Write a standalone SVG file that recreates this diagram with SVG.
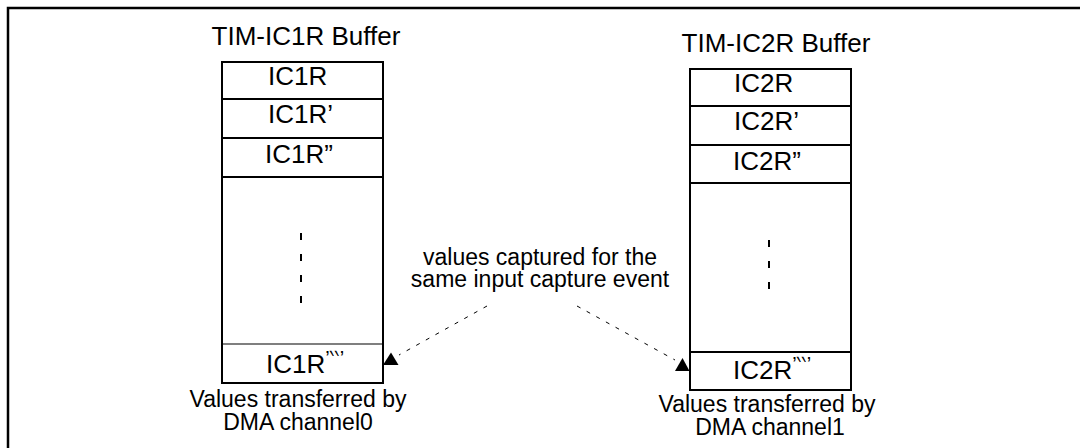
<svg xmlns="http://www.w3.org/2000/svg" width="1080" height="448" viewBox="0 0 1080 448">
  <defs>
    <style>
      .t { font-family: "Liberation Sans", Arial, sans-serif; fill: #000; }
      .big { font-size: 26px; }
      .lbl { font-size: 23px; }
      .box { fill: #fff; stroke: #000; stroke-width: 2; }
      .div { stroke: #000; stroke-width: 2; }
      .dots { stroke: #000; stroke-width: 2; stroke-dasharray: 7 14; }
      .lead { stroke: #000; stroke-width: 1; stroke-dasharray: 4 7; fill: none; }
      .sup { font-size: 20px; }
    </style>
  </defs>
  <rect width="1080" height="448" fill="#fff"/>
  <!-- outer frame (runs off the right and bottom edges) -->
  <path d="M8 448 V8 H1080" fill="none" stroke="#000" stroke-width="2.5"/>

  <!-- first capture buffer -->
  <g id="ic1r-buffer">
    <text class="t big" x="306" y="45" text-anchor="middle">TIM-IC1R Buffer</text>
    <rect class="box" x="222" y="62" width="161" height="321"/>
    <line class="div" x1="222" y1="99" x2="383" y2="99"/>
    <line class="div" x1="222" y1="138" x2="383" y2="138"/>
    <line class="div" x1="222" y1="177" x2="383" y2="177"/>
    <line x1="222" y1="344" x2="383" y2="344" stroke="#000" stroke-width="1.2"/>
    <text class="t big" x="268" y="85">IC1R</text>
    <text class="t big" x="268" y="123">IC1R’</text>
    <text class="t big" x="265" y="163">IC1R”</text>
    <line class="dots" x1="301" y1="233" x2="301" y2="303"/>
    <text class="t big" x="266" y="373">IC1R<tspan class="sup" dy="-8">’‵‵’</tspan></text>
    <text class="t lbl" x="298" y="407" text-anchor="middle">Values transferred by</text>
    <text class="t lbl" x="298" y="430" text-anchor="middle">DMA channel0</text>
  </g>

  <!-- second capture buffer -->
  <g id="ic2r-buffer">
    <text class="t big" x="776" y="52" text-anchor="middle">TIM-IC2R Buffer</text>
    <rect class="box" x="690" y="69" width="161" height="321"/>
    <line class="div" x1="690" y1="106" x2="851" y2="106"/>
    <line class="div" x1="690" y1="145" x2="851" y2="145"/>
    <line class="div" x1="690" y1="183" x2="851" y2="183"/>
    <line class="div" x1="690" y1="352" x2="851" y2="352"/>
    <text class="t big" x="734" y="92">IC2R</text>
    <text class="t big" x="734" y="130">IC2R’</text>
    <text class="t big" x="733" y="170">IC2R”</text>
    <line class="dots" x1="769" y1="240" x2="769" y2="303"/>
    <text class="t big" x="733" y="379">IC2R<tspan class="sup" dy="-8">’‵‵’</tspan></text>
    <text class="t lbl" x="767" y="412" text-anchor="middle">Values transferred by</text>
    <text class="t lbl" x="770" y="435" text-anchor="middle">DMA channel1</text>
  </g>

  <!-- shared caption -->
  <g id="caption">
    <text class="t lbl" x="540" y="265" text-anchor="middle">values captured for the</text>
    <text class="t lbl" x="540" y="287" text-anchor="middle">same input capture event</text>
  </g>

  <!-- leader lines to the last entries -->
  <g id="connectors">
    <line class="lead" x1="487" y1="306" x2="399" y2="355"/>
    <polygon points="383,365 391,352.5 398.5,365" fill="#000"/>
    <line class="lead" x1="577" y1="306" x2="675" y2="360"/>
    <polygon points="675,371 682.5,358 689.5,371" fill="#000"/>
  </g>
</svg>
